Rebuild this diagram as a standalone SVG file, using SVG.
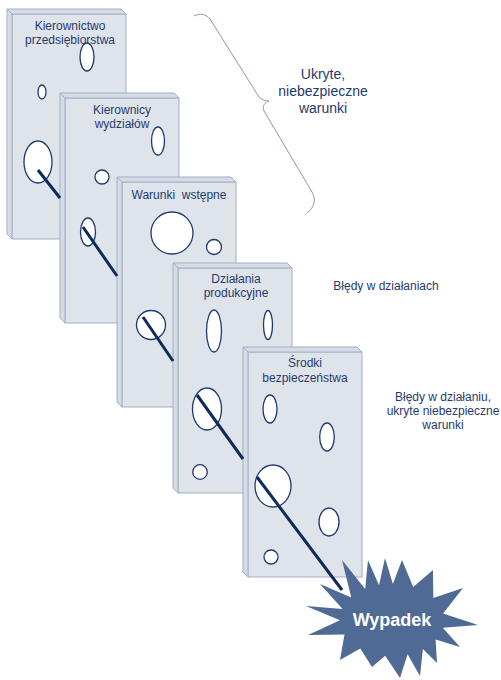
<svg xmlns="http://www.w3.org/2000/svg" xmlns:xlink="http://www.w3.org/1999/xlink" width="501" height="680" viewBox="0 0 501 680">
<style>
.face{fill:#dfe4eb;stroke:#a3afc4;stroke-width:1}
.strip{fill:#d6dce6;stroke:#a3afc4;stroke-width:1;stroke-linejoin:round}
.hole{fill:#ffffff;stroke:#1f3a6e;stroke-width:1.3}
.lbl{font-family:"Liberation Sans",Arial,sans-serif;font-size:12px;fill:#1f3a6e;text-anchor:middle}
.big{font-size:14px}
.conn{stroke:#0d2a5c;stroke-width:3;fill:none}
.brace{fill:none;stroke:#8a98b0;stroke-width:1}
</style>
<defs>
<g id="slab">
<rect class="face" x="5" y="5" width="114" height="225"/>
<polygon class="strip" points="0,0 114,0 119,5 5,5"/>
<polygon class="strip" points="0,0 5,5 5,230 0,225"/>
</g>
</defs>

<g id="slab1">
<use xlink:href="#slab" transform="translate(7,9)"/>
<text class="lbl" x="70" y="30">Kierownictwo</text>
<text class="lbl" x="70" y="44">przedsiębiorstwa</text>
<ellipse class="hole" cx="87" cy="57" rx="7" ry="14"/>
<ellipse class="hole" cx="42" cy="92" rx="4" ry="7"/>
<ellipse class="hole" cx="38" cy="162" rx="14" ry="21"/>
</g>

<g id="slab2">
<use xlink:href="#slab" transform="translate(60,93)"/>
<text class="lbl" x="122" y="114">Kierownicy</text>
<text class="lbl" x="122" y="128">wydziałów</text>
<ellipse class="hole" cx="158" cy="141" rx="6.5" ry="14"/>
<circle class="hole" cx="102" cy="177" r="7"/>
<ellipse class="hole" cx="88" cy="232" rx="7.5" ry="14"/>
</g>

<g id="slab3">
<use xlink:href="#slab" transform="translate(117,177)"/>
<text class="lbl" x="179" y="199" xml:space="preserve">Warunki  wstępne</text>
<circle class="hole" cx="172" cy="233" r="21"/>
<circle class="hole" cx="214" cy="247" r="7.5"/>
<circle class="hole" cx="151" cy="325" r="14.5"/>
</g>

<g id="slab4">
<use xlink:href="#slab" transform="translate(173,263)"/>
<text class="lbl" x="236" y="283">Działania</text>
<text class="lbl" x="236" y="297">produkcyjne</text>
<ellipse class="hole" cx="214" cy="331" rx="7.5" ry="21"/>
<ellipse class="hole" cx="268" cy="325" rx="4.5" ry="14.5"/>
<ellipse class="hole" cx="207" cy="409" rx="14.5" ry="21"/>
<circle class="hole" cx="200" cy="472" r="7.3"/>
</g>

<g id="slab5">
<use xlink:href="#slab" transform="translate(243,347)"/>
<text class="lbl" x="305" y="367">Środki</text>
<text class="lbl" x="305" y="382">bezpieczeństwa</text>
<ellipse class="hole" cx="270" cy="409" rx="7" ry="14"/>
<ellipse class="hole" cx="327" cy="437" rx="7.3" ry="14"/>
<ellipse class="hole" cx="273" cy="486" rx="18" ry="21"/>
<ellipse class="hole" cx="329" cy="522" rx="10" ry="14"/>
<circle class="hole" cx="271" cy="557" r="7"/>
</g>

<g id="connectors">
<line class="conn" x1="38" y1="170" x2="60" y2="198"/>
<line class="conn" x1="83" y1="227" x2="117" y2="276"/>
<line class="conn" x1="143" y1="317" x2="173" y2="361"/>
<line class="conn" x1="197" y1="395" x2="243" y2="459"/>
<line class="conn" x1="257" y1="477" x2="342" y2="590"/>
</g>

<g id="wypadek">
<polygon fill="#4f6a94" points="478,625 442.8,627.8 460,647 435.6,639.6 437,663 422.9,648.9 420,676 407.6,654.3 400,678 385.2,655.7 372,667 360.3,648.6 340,660 344.5,634.6 308,635 340,620.3 306,606 342.6,608.9 320,584 351.3,597.6 342,560 365.2,589.1 368,560 379,585.2 385,558 392.9,584 402,560 413.2,587.1 433,570 433.3,598.1 463,588 443.1,613.4"/>
<text x="392" y="626" font-family="'Liberation Sans',Arial,sans-serif" font-size="18" font-weight="bold" fill="#ffffff" text-anchor="middle">Wypadek</text>
</g>

<g id="brace">
<path class="brace" d="M194,16 C200,13 206,14 210,19 L259,97 C262,100 266,101 269,101 C265,102 262,106 264,111 L312,192 C316,199 315,207 307,213"/>
</g>

<g id="label-ukryte">
<text class="lbl big" x="323" y="79">Ukryte,</text>
<text class="lbl big" x="323" y="96">niebezpieczne</text>
<text class="lbl big" x="323" y="113">warunki</text>
</g>

<g id="label-bledy1">
<text class="lbl" x="386" y="290">Błędy w działaniach</text>
</g>

<g id="label-bledy2">
<text class="lbl" x="443" y="401">Błędy w działaniu,</text>
<text class="lbl" x="443" y="415">ukryte niebezpieczne</text>
<text class="lbl" x="443" y="429">warunki</text>
</g>
</svg>
